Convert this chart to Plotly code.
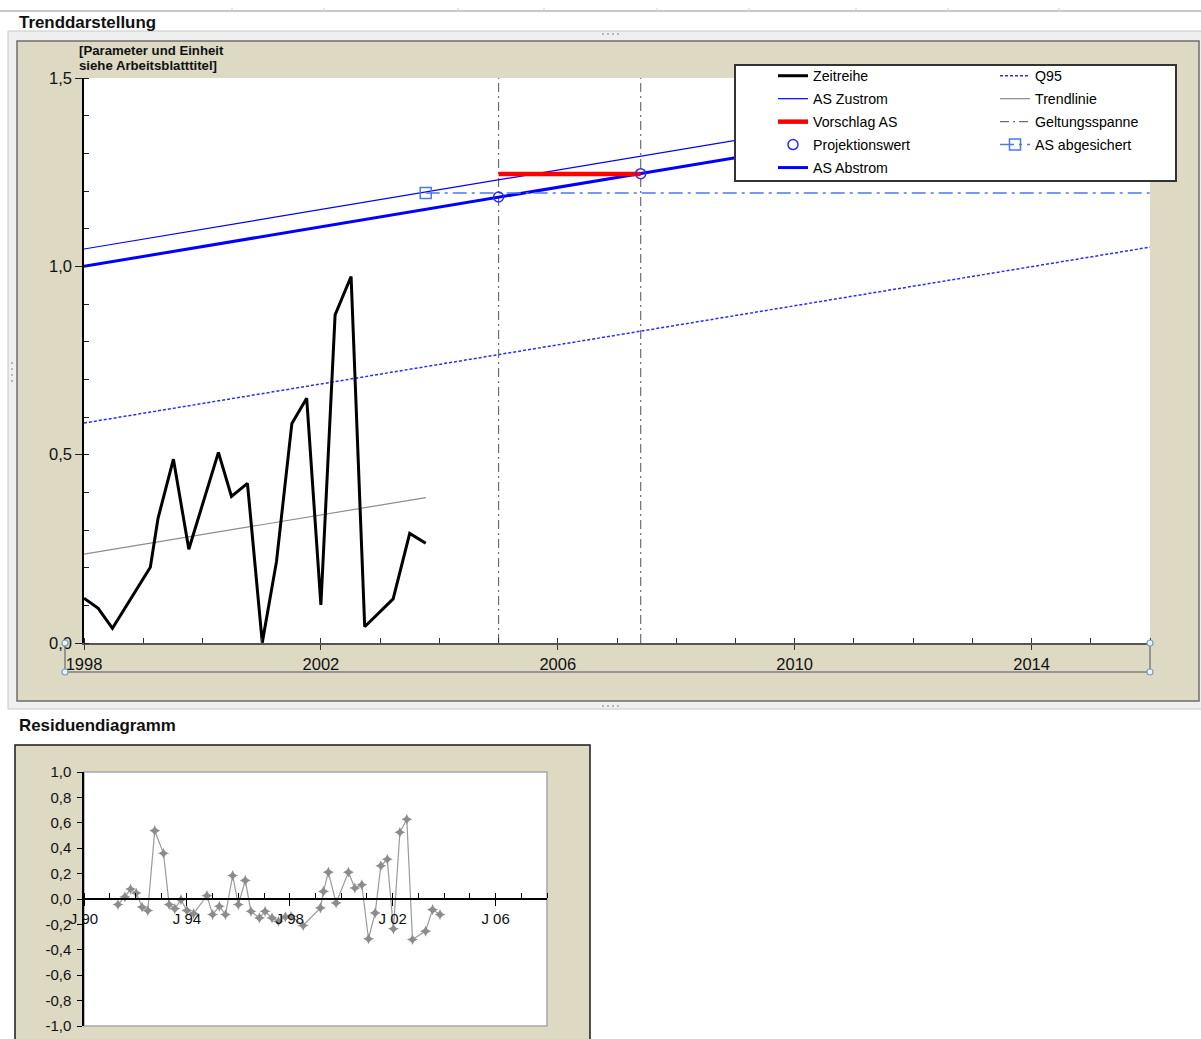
import plotly.graph_objects as go

W, H = 1201, 1039

# ---------------- data ----------------
# measured time series (decimal years)
zr_years = [1998.00, 1998.24, 1998.48, 1999.12, 1999.25, 1999.51, 1999.77,
            2000.27, 2000.49, 2000.76, 2001.01, 2001.25, 2001.51, 2001.76,
            2002.00, 2002.24, 2002.51, 2002.74, 2003.22, 2003.50, 2003.77]
zr_values = [0.119, 0.092, 0.039, 0.201, 0.331, 0.488, 0.249,
             0.506, 0.389, 0.424, 0.001, 0.216, 0.583, 0.650,
             0.101, 0.871, 0.973, 0.043, 0.117, 0.291, 0.265]

# linear trend of the time series
trend_years = [1998.00, 2003.77]
trend_values = [0.236, 0.386]

# inflow / outflow threshold lines
as_zustrom_years = [1998.0, 2016.0]
as_zustrom_values = [1.046, 1.518]
as_abstrom_years = [1998.0, 2016.0]
as_abstrom_values = [1.000, 1.472]

# 95 % quantile line
q95_years = [1998.0, 2016.0]
q95_values = [0.584, 1.051]

# validity span
geltung_start = 2005.0
geltung_end = 2007.4
geltung_bottom = 0.0
geltung_top = 1.5

# proposed threshold and projection values
vorschlag_years = [2005.0, 2007.4]
vorschlag_values = [1.245, 1.245]
projektion_years = [2005.0, 2007.4]
projektion_values = [1.184, 1.246]

# secured threshold
abgesichert_years = [2003.77, 2016.0]
abgesichert_values = [1.195, 1.195]

# axis ticks (main chart)
main_x_tickvals = [1998, 2002, 2006, 2010, 2014]
main_x_ticktext = ["1998", "2002", "2006", "2010", "2014"]
main_y_tickvals = [0.0, 0.5, 1.0, 1.5]
main_y_ticktext = ["0,0", "0,5", "1,0", "1,5"]

# residuals
res_years = [1991.32, 1991.59, 1991.81, 1992.03, 1992.26, 1992.48, 1992.75,
             1993.09, 1993.31, 1993.53, 1993.77, 1994.00, 1994.26, 1994.78,
             1995.00, 1995.26, 1995.50, 1995.78, 1996.00, 1996.27, 1996.49,
             1996.82, 1997.04, 1997.31, 1997.56, 1997.83, 1998.05, 1998.52,
             1999.19, 1999.31, 1999.50, 1999.80, 2000.28, 2000.53, 2000.80,
             2001.06, 2001.32, 2001.54, 2001.79, 2002.03, 2002.28, 2002.55,
             2002.77, 2003.28, 2003.55, 2003.84]
res_values = [-0.044, 0.016, 0.078, 0.047, -0.063, -0.091, 0.538,
              0.360, -0.044, -0.076, -0.005, -0.090, -0.115, 0.026,
              -0.123, -0.057, -0.123, 0.185, -0.044, 0.146, -0.097,
              -0.149, -0.097, -0.149, -0.175, -0.141, -0.136, -0.209,
              -0.070, 0.060, 0.211, -0.031, 0.211, 0.086, 0.112,
              -0.313, -0.110, 0.261, 0.313, -0.235, 0.525, 0.627,
              -0.319, -0.253, -0.084, -0.123]

res_x_tickvals = [1990, 1994, 1998, 2002, 2006]
res_x_ticktext = ["J 90", "J 94", "J 98", "J 02", "J 06"]
res_y_tickvals = [-1.0, -0.8, -0.6, -0.4, -0.2, 0.0, 0.2, 0.4, 0.6, 0.8, 1.0]
res_y_ticktext = ["-1,0", "-0,8", "-0,6", "-0,4", "-0,2", "0,0",
                  "0,2", "0,4", "0,6", "0,8", "1,0"]


# ---------------- helpers for page-pixel placement ----------------
def px(x):
    return x / W


def py(y):
    return 1 - y / H


FONT = "Liberation Sans, Arial, sans-serif"
BEIGE = "#ddd9c3"
BLUE = "#0000ff"
TXT = "#111111"

fig = go.Figure()

# ---------------- main chart traces ----------------
fig.add_trace(go.Scatter(
    x=q95_years, y=q95_values, mode="lines", name="Q95",
    line=dict(color="#2b2bff", width=1.5, dash="3px,2px"),
    legend="legend2", legendgroup="q95", legendrank=1))
fig.add_trace(go.Scatter(
    x=trend_years, y=trend_values, mode="lines", name="Trendlinie",
    line=dict(color="#8c8c8c", width=1.2),
    legend="legend2", legendgroup="trend", legendrank=2))
fig.add_trace(go.Scatter(
    x=zr_years, y=zr_values, mode="lines", name="Zeitreihe",
    line=dict(color="#000000", width=3),
    legend="legend", legendgroup="zr", legendrank=1))
fig.add_trace(go.Scatter(
    x=[geltung_start, geltung_start, None, geltung_end, geltung_end],
    y=[geltung_bottom, geltung_top, None, geltung_bottom, geltung_top],
    mode="lines", name="Geltungsspanne",
    line=dict(color="#6e6e6e", width=1.2, dash="9px,4px,2px,4px"),
    legend="legend2", legendgroup="gelt", legendrank=3))
fig.add_trace(go.Scatter(
    x=as_zustrom_years, y=as_zustrom_values, mode="lines", name="AS Zustrom",
    line=dict(color=BLUE, width=1.2),
    legend="legend", legendgroup="zu", legendrank=2))
fig.add_trace(go.Scatter(
    x=as_abstrom_years, y=as_abstrom_values, mode="lines", name="AS Abstrom",
    line=dict(color=BLUE, width=3),
    legend="legend", legendgroup="ab", legendrank=5))
fig.add_trace(go.Scatter(
    x=abgesichert_years, y=abgesichert_values, mode="lines+markers",
    name="AS abgesichert",
    line=dict(color="#4a78f0", width=1.5, dash="14px,5px,3px,5px"),
    marker=dict(symbol="square-open", size=11, color="#4a78f0",
                line=dict(width=1.5)),
    selectedpoints=[0], unselected=dict(marker=dict(opacity=0)),
    legend="legend2", legendgroup="abg", legendrank=4))
fig.add_trace(go.Scatter(
    x=vorschlag_years, y=vorschlag_values, mode="lines", name="Vorschlag AS",
    line=dict(color="#ff0000", width=4.5),
    legend="legend", legendgroup="vor", legendrank=3))
fig.add_trace(go.Scatter(
    x=projektion_years, y=projektion_values, mode="markers",
    name="Projektionswert",
    marker=dict(symbol="circle-open", size=10, color="#2a2aff",
                line=dict(width=1.5)),
    legend="legend", legendgroup="proj", legendrank=4))

# ---------------- residual chart trace ----------------
fig.add_trace(go.Scatter(
    x=res_years, y=res_values, mode="lines+markers", showlegend=False,
    xaxis="x2", yaxis="y2",
    line=dict(color="#9a9a9a", width=1.2),
    marker=dict(symbol="star-diamond", size=8, color="#8c8c8c")))

# ---------------- decorative frames ----------------
shapes = []
# worksheet grid line at the top
shapes.append(dict(type="line", xref="paper", yref="paper",
                   x0=0, x1=1, y0=py(11), y1=py(11),
                   line=dict(color="#c8c8c8", width=2), layer="below"))
for gx in [232, 324, 458, 544, 657, 749, 856, 948, 1059]:
    shapes.append(dict(type="line", xref="paper", yref="paper",
                       x0=px(gx), x1=px(gx), y0=py(8), y1=py(12),
                       line=dict(color="#d0d0d0", width=1), layer="below"))
# chart window frame
shapes.append(dict(type="rect", xref="paper", yref="paper",
                   x0=px(8), x1=px(1203), y0=py(709), y1=py(31),
                   fillcolor="#efefef", line=dict(color="#c8c8c8", width=1),
                   layer="below"))
shapes.append(dict(type="rect", xref="paper", yref="paper",
                   x0=px(17), x1=px(1199), y0=py(701), y1=py(41),
                   fillcolor=BEIGE, line=dict(color="#6e6e6e", width=1.5),
                   layer="below"))
# resize grips
for gx, gy in [(602, 34), (607, 34), (612, 34), (617, 34),
               (602, 706), (607, 706), (612, 706), (617, 706)]:
    shapes.append(dict(type="rect", xref="paper", yref="paper",
                       x0=px(gx), x1=px(gx + 2), y0=py(gy + 1), y1=py(gy - 1),
                       fillcolor="#b8b8b8", line=dict(width=0), layer="below"))
for gy in [363, 369, 375, 381]:
    shapes.append(dict(type="rect", xref="paper", yref="paper",
                       x0=px(11), x1=px(13), y0=py(gy + 1), y1=py(gy - 1),
                       fillcolor="#b8b8b8", line=dict(width=0), layer="below"))
# main plot area
shapes.append(dict(type="rect", xref="paper", yref="paper",
                   x0=px(84), x1=px(1150), y0=py(643), y1=py(78),
                   fillcolor="#ffffff", line=dict(width=0), layer="below"))
# selected x-axis outline with handles
shapes.append(dict(type="path", xref="paper", yref="paper",
                   path=(f"M{px(65)},{py(643)} L{px(65)},{py(672)} "
                         f"L{px(1150)},{py(672)} L{px(1150)},{py(643)}"),
                   line=dict(color="#7f7f7f", width=1.5), layer="above"))
for hx, hy in [(65, 643), (65, 672), (1150, 643), (1150, 672)]:
    shapes.append(dict(type="circle", xref="paper", yref="paper",
                       x0=px(hx - 3), x1=px(hx + 3), y0=py(hy + 3), y1=py(hy - 3),
                       fillcolor="#eef3f8", line=dict(color="#7a9ec0", width=1.2),
                       layer="above"))
# legend box
shapes.append(dict(type="rect", xref="paper", yref="paper",
                   x0=px(735), x1=px(1176), y0=py(181), y1=py(65),
                   fillcolor="#ffffff", line=dict(color="#333333", width=2),
                   layer="above"))
# residual chart frame and plot area
shapes.append(dict(type="rect", xref="paper", yref="paper",
                   x0=px(15), x1=px(590), y0=py(1060), y1=py(745),
                   fillcolor=BEIGE, line=dict(color="#1a1a1a", width=1.5),
                   layer="below"))
shapes.append(dict(type="rect", xref="paper", yref="paper",
                   x0=px(84), x1=px(547), y0=py(1026), y1=py(772),
                   fillcolor="#ffffff", line=dict(color="#a8a8a8", width=1.5),
                   layer="below"))

title_font = dict(family=FONT, size=16.9, color=TXT, weight="bold")
unit_font = dict(family=FONT, size=13.2, color=TXT, weight="bold")
annotations = [
    dict(text="Trenddarstellung", xref="paper", yref="paper",
         x=px(17), y=py(22), xanchor="left", yanchor="middle", showarrow=False,
         font=title_font),
    dict(text="Residuendiagramm", xref="paper", yref="paper",
         x=px(17), y=py(725), xanchor="left", yanchor="middle", showarrow=False,
         font=title_font),
    dict(text="[Parameter und Einheit", xref="paper", yref="paper",
         x=px(77), y=py(50), xanchor="left", yanchor="middle",
         showarrow=False, font=unit_font),
    dict(text="siehe Arbeitsblatttitel]", xref="paper", yref="paper",
         x=px(77), y=py(65.5), xanchor="left", yanchor="middle",
         showarrow=False, font=unit_font),
]

legend_font = dict(family=FONT, size=14.2, color="#000000")

fig.update_layout(
    template="none",
    width=W, height=H,
    margin=dict(l=0, r=0, t=0, b=0, pad=0, autoexpand=False),
    paper_bgcolor="#ffffff",
    plot_bgcolor="rgba(0,0,0,0)",
    separators=",.",
    font=dict(family=FONT, size=15, color=TXT),
    shapes=shapes,
    annotations=annotations,
    xaxis=dict(domain=[px(84), px(1150)], range=[1998, 2016], anchor="y",
               automargin=False,
               tickmode="array", tickvals=main_x_tickvals,
               ticktext=main_x_ticktext,
               ticks="outside", ticklen=5, tickwidth=1.2, tickcolor="#333",
               minor=dict(tickmode="linear", tick0=1998, dtick=1,
                          ticks="inside", ticklen=5, tickwidth=1,
                          tickcolor="#333"),
               showline=True, linecolor="#555555", linewidth=1.5,
               showgrid=False, zeroline=False,
               tickfont=dict(size=16.5, color=TXT),
               ticklabelstandoff=0),
    yaxis=dict(domain=[py(643), py(78)], range=[0, 1.5], anchor="x",
               automargin=False,
               tickmode="array", tickvals=main_y_tickvals,
               ticktext=main_y_ticktext,
               ticks="outside", ticklen=7, tickwidth=1.2, tickcolor="#222",
               minor=dict(tickmode="linear", tick0=0, dtick=0.1,
                          ticks="inside", ticklen=5, tickwidth=1,
                          tickcolor="#222"),
               showline=True, linecolor="#000000", linewidth=1.5,
               showgrid=False, zeroline=False,
               tickfont=dict(size=16.5, color=TXT)),
    xaxis2=dict(domain=[px(84), px(547)], range=[1990, 2008], anchor="free",
                position=py(899), automargin=False,
                tickmode="array", tickvals=res_x_tickvals,
                ticktext=res_x_ticktext,
                ticks="outside", ticklen=6, tickwidth=1.2, tickcolor="#000",
                minor=dict(tickmode="linear", tick0=1990, dtick=1,
                           ticks="inside", ticklen=5, tickwidth=1,
                           tickcolor="#000"),
                showline=True, linecolor="#000000", linewidth=1.5,
                showgrid=False, zeroline=False,
                tickfont=dict(size=15, color=TXT),
                ticklabelstandoff=0),
    yaxis2=dict(domain=[py(1026), py(772)], range=[-1, 1], anchor="x2",
                automargin=False,
                tickmode="array", tickvals=res_y_tickvals,
                ticktext=res_y_ticktext,
                ticks="outside", ticklen=5, tickwidth=1.2, tickcolor="#000",
                showline=True, linecolor="#000000", linewidth=1.5,
                showgrid=False, zeroline=False,
                tickfont=dict(size=15, color=TXT),
                ticklabelstandoff=3),
    legend=dict(x=px(773), y=py(60), xanchor="left", yanchor="top",
                bgcolor="rgba(0,0,0,0)", borderwidth=0,
                font=legend_font, tracegroupgap=1.5, traceorder="grouped",
                itemclick=False, itemdoubleclick=False),
    legend2=dict(x=px(995), y=py(60), xanchor="left", yanchor="top",
                 bgcolor="rgba(0,0,0,0)", borderwidth=0,
                 font=legend_font, tracegroupgap=1.5, traceorder="grouped",
                 itemclick=False, itemdoubleclick=False),
)

fig.write_html("out.html")
